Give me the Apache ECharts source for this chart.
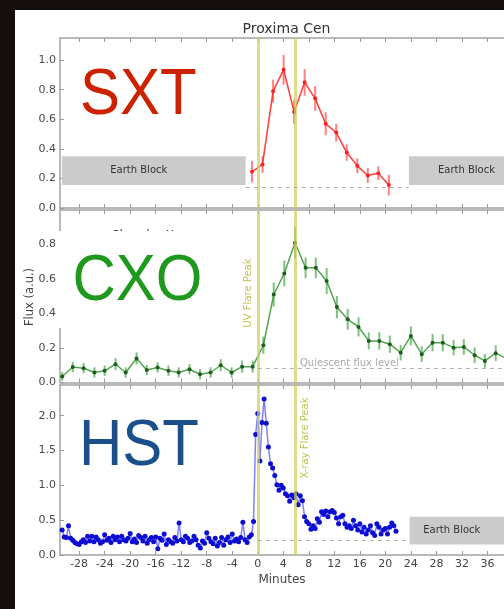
<!DOCTYPE html>
<html>
<head>
<meta charset="utf-8">
<script src="https://cdn.jsdelivr.net/npm/echarts@6/dist/echarts.min.js"></script>
<style>
  html, body { margin: 0; padding: 0; background: #150e0e; }
  #sheet { position: absolute; left: 15px; top: 10px; width: 489px; height: 599px; background: #ffffff; }
  #chart { position: absolute; left: 0; top: 0; width: 504px; height: 609px; }
</style>
</head>
<body>
<div id="sheet"></div>
<div id="chart"></div>
<script>
// ---- Proxima Cen flare: SXT / CXO / HST light curves (minutes from UV peak) ----

const minuteTicks = [-28, -24, -20, -16, -12, -8, -4, 0, 4, 8, 12, 16, 20, 24, 28, 32, 36];
const sxtTicks = [0, 0.2, 0.4, 0.6, 0.8, 1.0];
const cxoTicks = [0, 0.2, 0.4, 0.6, 0.8];
const hstTicks = [0, 0.5, 1.0, 1.5, 2.0];

const uvFlarePeak = 0;
const xrayFlarePeak = 5.8;

// Soft X-ray telescope
const sxtTime = [-0.9, 0.75, 2.4, 4.05, 5.7, 7.35, 9.0, 10.65, 12.3, 13.95, 15.6, 17.25, 18.9, 20.55];
const sxtFlux = [0.245, 0.295, 0.79, 0.935, 0.65, 0.85, 0.74, 0.57, 0.51, 0.375, 0.285, 0.22, 0.235, 0.155];
const sxtErr  = [0.072, 0.056, 0.078, 0.10, 0.08, 0.09, 0.084, 0.078, 0.06, 0.056, 0.05, 0.05, 0.047, 0.07];
const sxtQuiescent = 0.14;
const sxtEarthBlockLeft = [-30.7, -1.9];
const sxtEarthBlockRight = [23.7, 38.6];
const sxtEarthBlockFlux = [0.155, 0.35];

// Chandra X-ray
const cxoTime = [-30.65, -29.0, -27.3, -25.6, -24.0, -22.3, -20.7, -19.0, -17.4, -15.7, -14.0, -12.4, -10.7, -9.05,
  -7.4, -5.8, -4.1, -2.45, -0.8, 0.88, 2.5, 4.16, 5.83, 7.5, 9.1, 10.8, 12.4, 14.1, 15.8, 17.4, 19.05, 20.7,
  22.4, 24.0, 25.7, 27.4, 29.0, 30.7, 32.3, 34.0, 35.6, 37.3, 38.95];
const cxoFlux = [0.035, 0.09, 0.083, 0.058, 0.068, 0.106, 0.058, 0.139, 0.072, 0.087, 0.068, 0.058, 0.077, 0.048,
  0.058, 0.10, 0.058, 0.092, 0.092, 0.216, 0.51, 0.632, 0.81, 0.665, 0.665, 0.588, 0.437, 0.366, 0.322, 0.241,
  0.241, 0.222, 0.173, 0.27, 0.164, 0.231, 0.231, 0.202, 0.206, 0.158, 0.125, 0.17, 0.14];
const cxoErr = [0.025, 0.03, 0.03, 0.03, 0.03, 0.035, 0.03, 0.035, 0.03, 0.03, 0.03, 0.03, 0.03, 0.03,
  0.03, 0.035, 0.03, 0.035, 0.035, 0.05, 0.07, 0.075, 0.09, 0.06, 0.06, 0.075, 0.065, 0.06, 0.055, 0.05,
  0.05, 0.05, 0.045, 0.055, 0.045, 0.05, 0.05, 0.045, 0.045, 0.045, 0.04, 0.045, 0.045];
const cxoQuiescent = 0.082;

// Hubble UV, one sample every 20 s starting at -30.67 min
const hstStart = -92 / 3;
const hstCadence = 1 / 3;
const hstFlux = [
  0.36, 0.26, 0.25, 0.42, 0.24, 0.21, 0.18, 0.16, 0.15, 0.19,
  0.22, 0.18, 0.27, 0.20, 0.27, 0.19, 0.26, 0.22, 0.17, 0.19,
  0.29, 0.21, 0.24, 0.18, 0.27, 0.22, 0.26, 0.19, 0.27, 0.22,
  0.20, 0.24, 0.31, 0.19, 0.23, 0.18, 0.28, 0.25, 0.20, 0.27,
  0.17, 0.22, 0.25, 0.19, 0.26, 0.09, 0.24, 0.21, 0.30, 0.15,
  0.22, 0.19, 0.17, 0.25, 0.20, 0.46, 0.22, 0.19, 0.27, 0.24,
  0.18, 0.20, 0.27, 0.22, 0.14, 0.10, 0.20, 0.17, 0.32, 0.24,
  0.19, 0.16, 0.24, 0.13, 0.18, 0.25, 0.14, 0.22, 0.26, 0.18,
  0.30, 0.20, 0.23, 0.19, 0.25, 0.47, 0.22, 0.18, 0.26, 0.29,
  0.48,
  1.73, 2.03, 1.35, 1.90, 2.24, 1.89, 1.55, 1.31, 1.25, 1.14, 1.01,
  0.93, 1.00, 0.96, 0.88, 0.85, 0.77, 0.86, 0.82, 0.88, 0.72, 0.85, 0.78,
  0.55, 0.48, 0.45, 0.37, 0.42, 0.38, 0.52, 0.47, 0.62, 0.58, 0.63, 0.55,
  0.62, 0.64, 0.61, 0.53, 0.45, 0.55, 0.57, 0.45, 0.40, 0.42, 0.38, 0.50,
  0.42, 0.36, 0.45, 0.33, 0.40, 0.30, 0.36, 0.42, 0.32, 0.28, 0.45, 0.40,
  0.30, 0.36, 0.38, 0.30, 0.40, 0.46, 0.42, 0.34
];
const hstQuiescent = 0.21;
const hstEarthBlock = [23.8, 38.6];
const hstEarthBlockFlux = [0.15, 0.55];

// ---- layout helpers ----
const X_MIN = -31, X_MAX = 38.6;
const spine = { color: '#a3a3a3', width: 1.5 };
const tickStyle = { color: '#9a9a9a', width: 1 };
const labelFont = 'DejaVu Sans';

function bottomAxis(grid, showLabels) {
  return {
    type: 'value', gridIndex: grid, position: 'bottom', min: X_MIN, max: X_MAX,
    axisLine: { show: true, onZero: false, lineStyle: spine },
    axisTick: { show: true, inside: true, length: 4, customValues: minuteTicks, lineStyle: tickStyle },
    axisLabel: { show: showLabels, customValues: minuteTicks, color: '#444', fontSize: 11, fontFamily: labelFont, margin: 4 },
    splitLine: { show: false },
    name: showLabels ? 'Minutes' : '', nameLocation: 'middle', nameGap: 19,
    nameTextStyle: { color: '#444', fontSize: 12, fontFamily: labelFont }
  };
}
function topAxis(grid) {
  return {
    type: 'value', gridIndex: grid, position: 'top', min: X_MIN, max: X_MAX,
    axisLine: { show: true, onZero: false, lineStyle: spine },
    axisTick: { show: true, inside: true, length: 4, customValues: minuteTicks, lineStyle: tickStyle },
    axisLabel: { show: false }, splitLine: { show: false }
  };
}
function leftAxis(grid, max, ticks) {
  return {
    type: 'value', gridIndex: grid, min: 0, max: max,
    axisLine: { show: true, onZero: false, lineStyle: spine },
    axisTick: { show: true, inside: true, length: 4, customValues: ticks, lineStyle: tickStyle },
    axisLabel: { customValues: ticks, formatter: v => v.toFixed(1), color: '#4a4a4a', fontSize: 11, fontFamily: labelFont, margin: 4 },
    splitLine: { show: false }
  };
}

function errorBars(params, api) {
  const x = api.value(0), y = api.value(1), e = api.value(2);
  const lo = api.coord([x, y - e]);
  const hi = api.coord([x, y + e]);
  return {
    type: 'line',
    shape: { x1: lo[0], y1: lo[1], x2: hi[0], y2: hi[1] },
    style: { stroke: api.visual('color'), lineWidth: 2 }
  };
}

const flareLine = { color: 'rgba(205,205,90,0.7)', width: 3, type: 'solid' };
const quietLine = { color: '#b0b0b0', width: 1, type: [4, 4] };
const blockStyle = { color: '#cbcbcb' };
const blockLabel = { show: true, position: 'inside', color: '#333', fontSize: 10, fontFamily: labelFont };

function guides(grid, dashed, blocks) {
  return {
    type: 'line', xAxisIndex: grid, yAxisIndex: grid, data: [], z: 1, silent: true,
    markLine: {
      silent: true, symbol: ['none', 'none'], label: { show: false }, animation: false,
      data: [
        { xAxis: uvFlarePeak, lineStyle: flareLine },
        { xAxis: xrayFlarePeak, lineStyle: flareLine },
        [{ coord: dashed[0], lineStyle: quietLine }, { coord: dashed[1] }]
      ]
    },
    markArea: {
      silent: true, animation: false, itemStyle: blockStyle,
      data: blocks.map(b => [
        { xAxis: b.x[0], yAxis: b.y[0], name: 'Earth Block', label: Object.assign({}, blockLabel, { offset: b.offset }) },
        { xAxis: b.x[1], yAxis: b.y[1] }
      ])
    }
  };
}

const option = {
  animation: false,
  backgroundColor: 'transparent',
  grid: [
    { left: 60, right: 0, top: 38, height: 170 },
    { left: 60, right: 0, top: 210, height: 172.5 },
    { left: 60, right: 0, top: 385, height: 170 }
  ],
  xAxis: [bottomAxis(0, false), bottomAxis(1, false), bottomAxis(2, true), topAxis(0), topAxis(1), topAxis(2)],
  yAxis: [leftAxis(0, 1.15, sxtTicks), leftAxis(1, 1.0, cxoTicks), leftAxis(2, 2.44, hstTicks)],
  series: [
    guides(0, [[sxtEarthBlockLeft[1], sxtQuiescent], [sxtEarthBlockRight[0], sxtQuiescent]], [
      { x: sxtEarthBlockLeft, y: sxtEarthBlockFlux, offset: [-15, 0] },
      { x: sxtEarthBlockRight, y: sxtEarthBlockFlux, offset: [10, 0] }
    ]),
    guides(1, [[uvFlarePeak, cxoQuiescent], [X_MAX, cxoQuiescent]], []),
    guides(2, [[uvFlarePeak, hstQuiescent], [hstEarthBlock[0], hstQuiescent]], [
      { x: hstEarthBlock, y: hstEarthBlockFlux, offset: [-5, 0] }
    ]),
    {
      type: 'custom', xAxisIndex: 0, yAxisIndex: 0, z: 3, renderItem: errorBars,
      encode: { x: 0, y: 1 }, itemStyle: { color: 'rgba(255,45,45,0.6)' },
      data: sxtTime.map((t, i) => [t, sxtFlux[i], sxtErr[i]])
    },
    {
      type: 'line', xAxisIndex: 0, yAxisIndex: 0, z: 4,
      data: sxtTime.map((t, i) => [t, sxtFlux[i]]),
      symbol: 'circle', symbolSize: 4, itemStyle: { color: '#ff2020' },
      lineStyle: { color: 'rgba(255,35,35,0.85)', width: 1.6 }
    },
    {
      type: 'custom', xAxisIndex: 1, yAxisIndex: 1, z: 3, renderItem: errorBars,
      encode: { x: 0, y: 1 }, itemStyle: { color: 'rgba(40,150,40,0.6)' },
      data: cxoTime.map((t, i) => [t, cxoFlux[i], cxoErr[i]])
    },
    {
      type: 'line', xAxisIndex: 1, yAxisIndex: 1, z: 4,
      data: cxoTime.map((t, i) => [t, cxoFlux[i]]),
      symbol: 'circle', symbolSize: 4, itemStyle: { color: '#1d5e1d' },
      lineStyle: { color: 'rgba(40,140,40,0.8)', width: 1.5 }
    },
    {
      type: 'line', xAxisIndex: 2, yAxisIndex: 2, z: 4,
      data: hstFlux.map((f, i) => [hstStart + i * hstCadence, f]),
      symbol: 'circle', symbolSize: 5, itemStyle: { color: '#0c0cd2' },
      lineStyle: { color: 'rgba(60,60,255,0.65)', width: 1.5 }
    }
  ],
  graphic: [
    { type: 'text', x: 286.5, y: 29, z: 100,
      style: { text: 'Proxima Cen', fill: '#333', font: '14px "DejaVu Sans"', textAlign: 'center', textVerticalAlign: 'middle' } },
    { type: 'text', x: 30, y: 297, rotation: Math.PI / 2, z: 100,
      style: { text: 'Flux (a.u.)', fill: '#444', font: '11.5px "DejaVu Sans"', textAlign: 'center', textVerticalAlign: 'middle' } },
    { type: 'text', x: 154, y: 229.5, z: 90,
      style: { text: 'Chandra X-ray', fill: '#333', font: '12px "DejaVu Sans"', textAlign: 'center', textVerticalAlign: 'top' } },
    { type: 'rect', z: 95, shape: { x: 59, y: 231, width: 147, height: 97 }, style: { fill: '#ffffff' } },
    { type: 'text', x: 248, y: 293, rotation: Math.PI / 2, z: 100,
      style: { text: 'UV Flare Peak', fill: '#c2c250', font: '10px "DejaVu Sans"', textAlign: 'center', textVerticalAlign: 'middle' } },
    { type: 'text', x: 305, y: 438, rotation: Math.PI / 2, z: 100,
      style: { text: 'X-ray Flare Peak', fill: '#c2c250', font: '10px "DejaVu Sans"', textAlign: 'center', textVerticalAlign: 'middle' } },
    { type: 'text', x: 300, y: 363, z: 100,
      style: { text: 'Quiescent flux level', fill: '#a8a8a8', font: '10px "DejaVu Sans"', textAlign: 'left', textVerticalAlign: 'middle' } },
    { type: 'text', x: 80, y: 96.5, scaleY: 1.08, z: 110,
      style: { text: 'SXT', fill: '#cc2200', font: '60px "Liberation Sans"', textAlign: 'left', textVerticalAlign: 'middle' } },
    { type: 'text', x: 72.5, y: 282.5, scaleY: 1.08, z: 110,
      style: { text: 'CXO', fill: '#1e991e', font: '60px "Liberation Sans"', textAlign: 'left', textVerticalAlign: 'middle' } },
    { type: 'text', x: 79, y: 447, scaleY: 1.08, z: 110,
      style: { text: 'HST', fill: '#1b4f8c', font: '60px "Liberation Sans"', textAlign: 'left', textVerticalAlign: 'middle' } }
  ]
};

const chart = echarts.init(document.getElementById('chart'), null, { renderer: 'canvas' });
chart.setOption(option);
</script>
</body>
</html>
